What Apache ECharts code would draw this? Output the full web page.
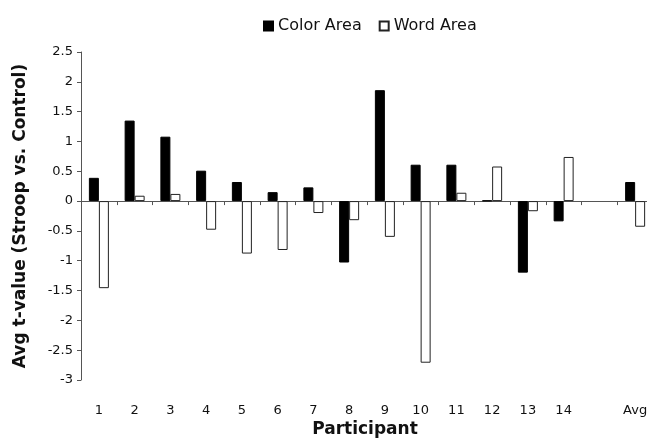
<!DOCTYPE html>
<html><head><meta charset="utf-8">
<script src="https://cdn.jsdelivr.net/npm/echarts@6/dist/echarts.min.js"></script>
<style>html,body{margin:0;padding:0;background:#fff;overflow:hidden;width:647px;height:438px}#c{width:662px;height:438px}</style>
</head><body><div id="c"></div>
<script>
const categories = ['1','2','3','4','5','6','7','8','9','10','11','12','13','14','','Avg'];
const colorArea = [0.39,1.35,1.08,0.51,0.32,0.15,0.23,-1.03,1.86,0.61,0.61,0.01,-1.2,-0.34,null,0.32];
const wordArea = [-1.46,0.09,0.12,-0.48,-0.88,-0.82,-0.2,-0.32,-0.6,-2.71,0.14,0.58,-0.17,0.74,null,-0.43];
const yTicks = {min:-3, max:2.5, interval:0.5};
const FONT = 'DejaVu Sans';
const chart = echarts.init(document.getElementById('c'), null, {renderer:'canvas'});
chart.setOption({
  animation:false,
  backgroundColor:'#fff',
  textStyle:{fontFamily:FONT},
  legend:{
    top:13, left:258, itemWidth:9, itemHeight:9, itemGap:17,
    textStyle:{fontFamily:FONT, fontSize:16, color:'#111'},
    data:[{name:'Color Area', icon:'rect'},{name:'Word Area', icon:'rect'}]
  },
  grid:{left:81, right:9, top:52, bottom:58},
  xAxis:[{
    type:'category', data:categories,
    axisLine:{onZero:true, lineStyle:{color:'#555', width:1}},
    axisTick:{show:true, length:4, lineStyle:{color:'#555'}},
    axisLabel:{show:false}
  },{
    type:'category', data:categories, position:'bottom',
    axisLine:{show:false, onZero:false}, axisTick:{show:false},
    axisLabel:{margin:24, fontFamily:FONT, fontSize:13, color:'#111', interval:0}
  }],
  yAxis:{
    type:'value', min:yTicks.min, max:yTicks.max, interval:yTicks.interval,
    splitLine:{show:false},
    axisLine:{show:true, lineStyle:{color:'#555'}},
    axisTick:{show:true, length:4, lineStyle:{color:'#555'}},
    axisLabel:{fontFamily:FONT, fontSize:13, color:'#111', margin:8,
      formatter: v => String(v)}
  },
  graphic:[
    {type:'text', x:365, y:430, style:{text:'Participant', font:'bold 17px "DejaVu Sans"', fill:'#111', textAlign:'center', textVerticalAlign:'middle'}},
    {type:'text', x:21, y:216, rotation:Math.PI/2, style:{text:'Avg t-value (Stroop vs. Control)', font:'bold 17px "DejaVu Sans"', fill:'#111', textAlign:'center', textVerticalAlign:'middle'}}
  ],
  series:[
    {name:'Color Area', type:'bar', xAxisIndex:0, data:colorArea, barWidth:10, barGap:'0%',
      itemStyle:{color:'#000', borderColor:'#000', borderWidth:1}},
    {name:'Word Area', type:'bar', xAxisIndex:0, data:wordArea, barWidth:10, barGap:'0%',
      itemStyle:{color:'#fff', borderColor:'#222', borderWidth:1}}
  ]
});
</script></body></html>
